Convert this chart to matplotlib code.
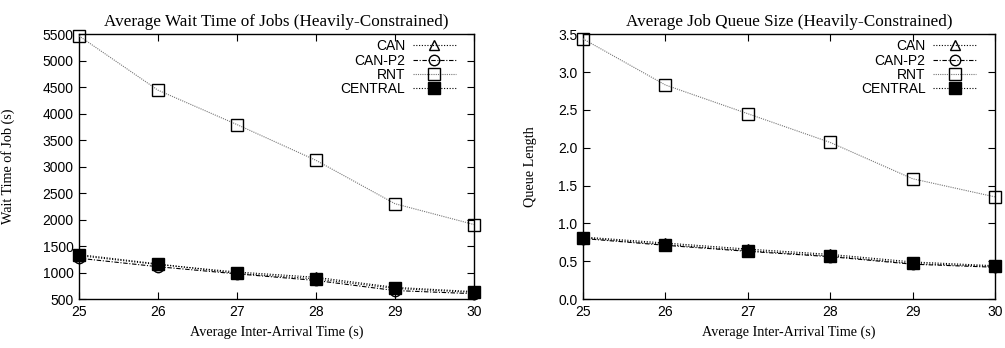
import matplotlib
matplotlib.use('Agg')
import matplotlib.pyplot as plt

# x values
inter_arrival = [25, 26, 27, 28, 29, 30]

# left: average wait time (s)
wait_can     = [1320, 1150, 1010, 910, 720, 640]
wait_can_p2  = [1270, 1110,  975, 850, 660, 600]
wait_rnt     = [5470, 4445, 3795, 3120, 2300, 1907]
wait_central = [1340, 1163,  985, 880, 700, 625]

# right: average queue length
queue_can     = [0.82, 0.74, 0.66, 0.59, 0.49, 0.44]
queue_can_p2  = [0.80, 0.71, 0.63, 0.56, 0.46, 0.42]
queue_rnt     = [3.44, 2.83, 2.45, 2.07, 1.59, 1.35]
queue_central = [0.81, 0.72, 0.64, 0.57, 0.47, 0.43]

series_names = ['CAN', 'CAN-P2', 'RNT', 'CENTRAL']

serif = 'Liberation Serif'
sans  = 'Liberation Sans'

styles = {
    'CAN':     dict(color='black', linestyle=(0, (1, 1.5)), linewidth=0.8,
                    marker='^', markerfacecolor='none', markeredgecolor='black', markersize=7.5),
    'CAN-P2':  dict(color='black', linestyle=(0, (4, 1.5, 1, 1.5)), linewidth=0.8,
                    marker='o', markerfacecolor='none', markeredgecolor='black', markersize=7.5),
    'RNT':     dict(color='#777777', linestyle=(0, (1, 1)), linewidth=0.8,
                    marker='s', markerfacecolor='none', markeredgecolor='black', markersize=8),
    'CENTRAL': dict(color='black', linestyle=(0, (1, 1.5)), linewidth=0.8,
                    marker='s', markerfacecolor='black', markeredgecolor='black', markersize=8),
}


def draw_panel(ax, data, title, ylabel, ylim, yticks, yfmt, ylab_x, leg_x):
    for name, vals in zip(series_names, data):
        ax.plot(inter_arrival, vals, label=name, clip_on=False, zorder=3, **styles[name])

    ax.set_xlim(25, 30)
    ax.set_ylim(*ylim)
    ax.set_xticks(inter_arrival)
    ax.set_yticks(yticks)
    ax.set_yticklabels([yfmt(v) for v in yticks])
    ax.tick_params(direction='in', top=True, right=True, length=5, width=0.8,
                   labelsize=10, pad=4)
    for lab in ax.get_xticklabels() + ax.get_yticklabels():
        lab.set_family(sans)
    for sp in ax.spines.values():
        sp.set_linewidth(1.0)

    ax.set_title(title, family=serif, fontsize=12.3, pad=6)
    ax.set_xlabel('Average Inter-Arrival Time (s)', family=serif, fontsize=10.2, labelpad=5)
    ax.set_ylabel(ylabel, family=serif, fontsize=10.2)
    ax.yaxis.set_label_coords(ylab_x, 0.5)

    ax.legend(loc='upper right', bbox_to_anchor=(leg_x, 1.002), frameon=False,
              markerfirst=False, prop={'family': sans, 'size': 10}, handlelength=3.1,
              handletextpad=0.55, labelspacing=0.02, borderaxespad=0.0)


fig = plt.figure(figsize=(10.05, 3.48), dpi=100)
ax1 = fig.add_axes([0.0786, 0.1408, 0.393, 0.7606])
ax2 = fig.add_axes([0.5801, 0.1408, 0.4100, 0.7606])

draw_panel(ax1, [wait_can, wait_can_p2, wait_rnt, wait_central],
           'Average Wait Time of Jobs (Heavily-Constrained)', 'Wait Time of Job (s)',
           (500, 5500), list(range(500, 5501, 500)), lambda v: f'{v:d}', -0.162, 0.968)
draw_panel(ax2, [queue_can, queue_can_p2, queue_rnt, queue_central],
           'Average Job Queue Size (Heavily-Constrained)', 'Queue Length',
           (0, 3.5), [0.0, 0.5, 1.0, 1.5, 2.0, 2.5, 3.0, 3.5], lambda v: f'{v:.1f}', -0.112, 0.968)

fig.savefig('out.png', dpi=100)
